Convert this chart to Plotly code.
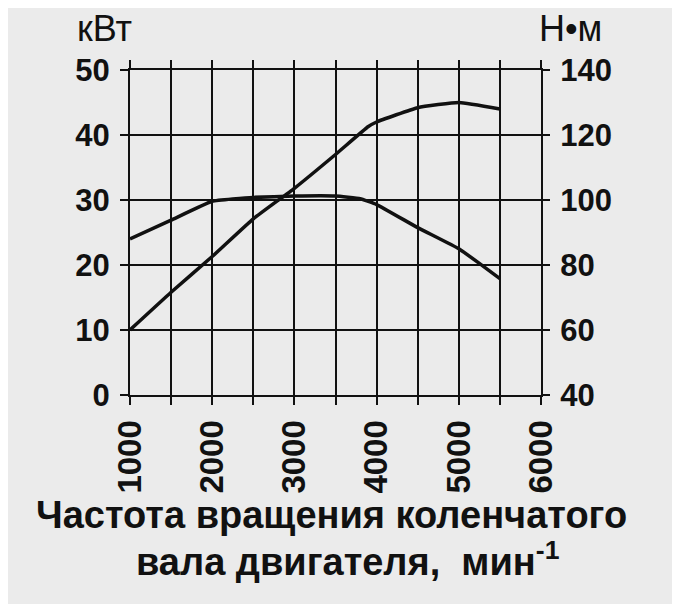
import plotly.graph_objects as go

rpm_power = [1000, 1500, 2000, 2500, 3000, 3500, 3900, 4000, 4500, 5000, 5500]
power_kw = [10.0, 15.8, 21.3, 27.1, 31.8, 37.0, 41.3, 42.0, 44.2, 45.0, 44.0]

rpm_torque = [1000, 1500, 2000, 2500, 3000, 3500, 3800, 4000, 4500, 5000, 5250, 5500]
torque_nm = [88.0, 93.8, 99.6, 100.8, 101.2, 101.2, 100.4, 98.6, 91.5, 85.0, 80.5, 75.8]

x_ticks = [1000, 2000, 3000, 4000, 5000, 6000]
left_ticks = [0, 10, 20, 30, 40, 50]
right_ticks = [40, 60, 80, 100, 120, 140]

BG = "#ebebeb"
INK = "#111111"
FONT = "Liberation Sans, Arial, sans-serif"

fig = go.Figure()
fig.add_trace(go.Scatter(x=rpm_power, y=power_kw, mode="lines",
                         line=dict(color=INK, width=3.5, shape="spline", smoothing=0.4),
                         showlegend=False, hoverinfo="skip"))
fig.add_trace(go.Scatter(x=rpm_torque, y=torque_nm, mode="lines", yaxis="y2",
                         line=dict(color=INK, width=3.5, shape="spline", smoothing=0.3),
                         showlegend=False, hoverinfo="skip"))

tick_font = dict(family=FONT, size=31, color=INK, weight="bold")
x_tick_font = dict(family=FONT, size=33, color=INK, weight="bold")


def py(px):
    """pixel row (screen) -> paper y (plot area spans rows 70..395)"""
    return (395 - px) / 325


def px_x(px):
    """pixel column (screen) -> paper x (plot area spans cols 130..541)"""
    return (px - 130) / 411


# page body has an 8px margin: figure is 8px smaller and offsets shifted
fig.update_layout(
    width=672, height=596,
    margin=dict(l=122, r=139, t=62, b=209),
    paper_bgcolor=BG, plot_bgcolor=BG,
    xaxis=dict(range=[1000, 6000], tickvals=x_ticks, ticktext=[str(v) for v in x_ticks],
               tickangle=-90, tickfont=x_tick_font, automargin=False,
               showgrid=True, gridcolor=INK, gridwidth=2,
               showline=True, linecolor=INK, linewidth=2, mirror="allticks",
               ticks="outside", ticklen=8, tickwidth=2, tickcolor=INK,
               ticklabelstandoff=2,
               minor=dict(dtick=500, tick0=1000, ticks="outside", ticklen=8, tickwidth=2,
                          tickcolor=INK, showgrid=True, gridcolor=INK, gridwidth=2),
               zeroline=False, fixedrange=True),
    yaxis=dict(range=[0, 50], tickvals=left_ticks, ticktext=[str(v) for v in left_ticks],
               tickfont=tick_font, automargin=False,
               showgrid=True, gridcolor=INK, gridwidth=2,
               showline=True, linecolor=INK, linewidth=2, mirror=True,
               ticks="outside", ticklen=8, tickwidth=2, tickcolor=INK,
               ticklabelstandoff=4,
               zeroline=False, fixedrange=True),
    yaxis2=dict(range=[40, 140], tickvals=right_ticks, ticktext=[str(v) for v in right_ticks],
                overlaying="y", side="right", automargin=False,
                tickfont=tick_font,
                showgrid=False, showline=False,
                ticks="outside", ticklen=8, tickwidth=2, tickcolor=INK,
                ticklabelstandoff=4,
                zeroline=False, fixedrange=True),
    annotations=[
        dict(text="кВт", xref="paper", yref="paper", x=px_x(75), y=py(51),
             xanchor="left", yanchor="bottom", showarrow=False,
             font=dict(family=FONT, size=36, color=INK)),
        dict(text="Н•м", xref="paper", yref="paper", x=px_x(604), y=py(51),
             xanchor="right", yanchor="bottom", showarrow=False,
             font=dict(family=FONT, size=36, color=INK)),
        dict(text="Частота вращения коленчатого",
             xref="paper", yref="paper", x=px_x(331), y=py(492),
             xanchor="center", yanchor="top", showarrow=False,
             font=dict(family=FONT, size=38, color=INK, weight="bold")),
        dict(text="вала двигателя,  мин<sup>-1</sup>",
             xref="paper", yref="paper", x=px_x(348), y=py(533),
             xanchor="center", yanchor="top", showarrow=False,
             font=dict(family=FONT, size=38, color=INK, weight="bold")),
    ],
)

fig.write_html("out.html")
